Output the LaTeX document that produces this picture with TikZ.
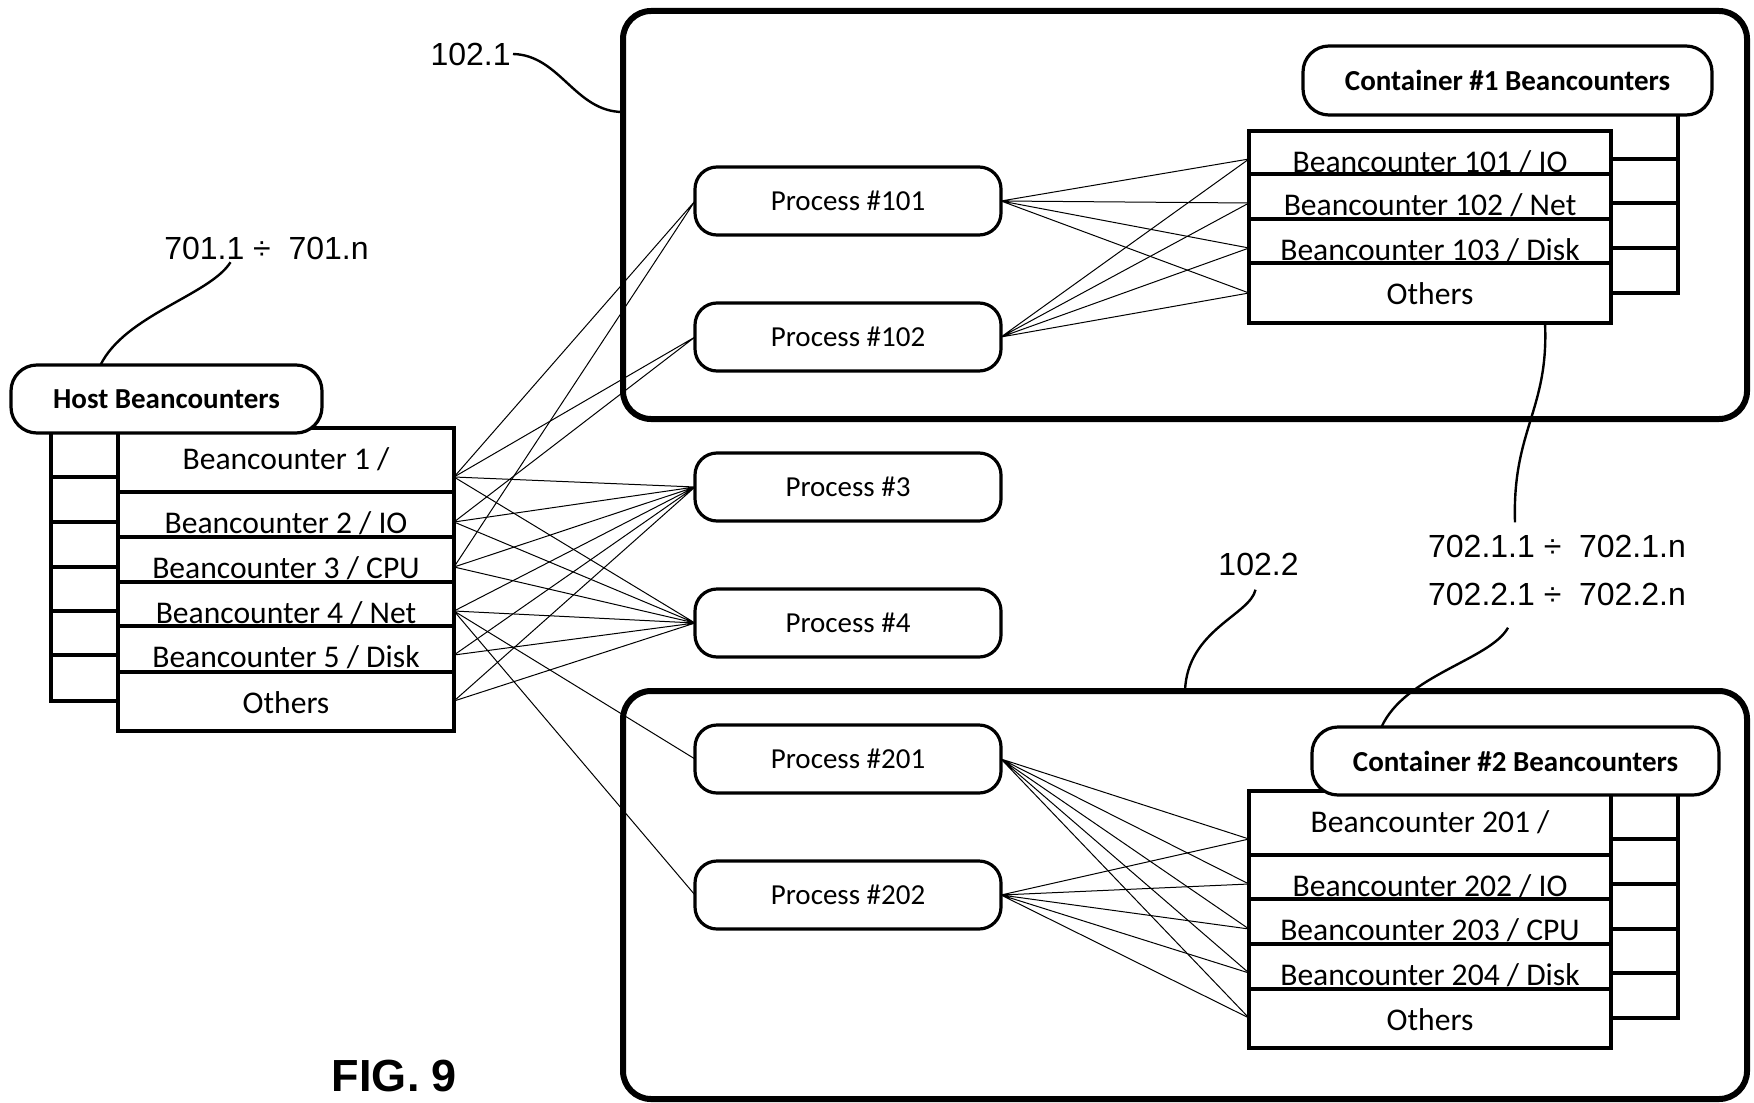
\documentclass[tikz,border=0pt]{standalone}
\usepackage{fontspec}
\setmainfont{Carlito}
\newfontfamily\arialfont{Liberation Sans}
\usetikzlibrary{positioning}

\begin{document}
\begin{tikzpicture}[x=0.5pt, y=-0.5pt,
        ctframe/.style={draw, line width=3pt, rounded corners=14pt, minimum width=562pt, minimum height=204pt, outer sep=0pt},
        proc/.style={draw, rounded corners=11pt, line width=1.6pt, minimum width=153pt, minimum height=34pt, outer sep=0pt, font=\fontsize{14.5}{17}\selectfont},
        bctitle/.style={draw, fill=white, rounded corners=13pt, line width=1.6pt, minimum height=34pt, outer sep=0pt, font=\fontsize{14.5}{17}\selectfont\bfseries},
        bcrow/.style={draw, fill=white, line width=1.6pt, inner ysep=0.5pt, outer sep=0pt, text height=20pt, text depth=#1, font=\fontsize{15.8}{18}\selectfont},
        hostrow/.style={bcrow=#1, minimum width=168pt},
        ctrow/.style={bcrow=#1, minimum width=181pt},
        stub/.style={line width=1.6pt},
        wire/.style={line width=0.5pt},
        refnum/.style={inner sep=1pt, font=\arialfont\fontsize{16}{24}\selectfont},
        leader/.style={line width=1.2pt}]
    \useasboundingbox (0,0) rectangle (1754,1102);
    \node[ctframe] (ct1) at (1185,215) {};
    \node[ctframe] (ct2) at (1185,895) {};

    \node[hostrow=11pt, anchor=north west] (h1) at (118,428) {Beancounter 1 /};
    \node[hostrow=1.5pt, below=0pt of h1] (h2) {Beancounter 2 / IO};
    \node[hostrow=1.5pt, below=0pt of h2] (h3) {Beancounter 3 / CPU};
    \node[hostrow=1pt, below=0pt of h3] (h4) {Beancounter 4 / Net};
    \node[hostrow=2pt, below=0pt of h4] (h5) {Beancounter 5 / Disk};
    \node[hostrow=8.5pt, below=0pt of h5] (h6) {Others};
    \node[bctitle, minimum width=155.5pt] (hostt) at (166.5,399) {Host Beancounters};
    \draw[stub] (51,433) -- (51,701) -- (118,701);
    \draw[stub] (51,477) -- (118,477) (51,522) -- (118,522) (51,567) -- (118,567) (51,611) -- (118,611) (51,655) -- (118,655);

    \node[ctrow=0.5pt, anchor=north west] (c1r1) at (1249,131) {Beancounter 101 / IO};
    \node[ctrow=1.5pt, below=0pt of c1r1] (c1r2) {Beancounter 102 / Net};
    \node[ctrow=1pt, below=0pt of c1r2] (c1r3) {Beancounter 103 / Disk};
    \node[ctrow=9pt, below=0pt of c1r3] (c1r4) {Others};
    \node[bctitle, minimum width=204.5pt, minimum height=34.5pt] (c1t) at (1507.5,80.5) {Container \#1 Beancounters};
    \draw[stub] (1678,115) -- (1678,293) -- (1611,293);
    \draw[stub] (1611,159) -- (1678,159) (1611,203) -- (1678,203) (1611,248) -- (1678,248);

    \node[ctrow=11pt, anchor=north west] (c2r1) at (1249,791) {Beancounter 201 /};
    \node[ctrow=1pt, below=0pt of c2r1] (c2r2) {Beancounter 202 / IO};
    \node[ctrow=1.5pt, below=0pt of c2r2] (c2r3) {Beancounter 203 / CPU};
    \node[ctrow=1.5pt, below=0pt of c2r3] (c2r4) {Beancounter 204 / Disk};
    \node[ctrow=8.5pt, below=0pt of c2r4] (c2r5) {Others};
    \node[bctitle, minimum width=203.5pt] (c2t) at (1515.5,761) {Container \#2 Beancounters};
    \draw[stub] (1678,795) -- (1678,1018) -- (1611,1018);
    \draw[stub] (1611,839) -- (1678,839) (1611,884) -- (1678,884) (1611,929) -- (1678,929) (1611,973) -- (1678,973);

    \node[proc] (p101) at (848,201) {Process \#101};
    \node[proc, below=34pt of p101] (p102) {Process \#102};
    \node[proc, below=41pt of p102] (p3) {Process \#3};
    \node[proc, below=34pt of p3] (p4) {Process \#4};
    \node[proc, below=34pt of p4] (p201) {Process \#201};
    \node[proc, below=34pt of p201] (p202) {Process \#202};

    \coordinate (ha1) at (454,477);
    \coordinate (ha2) at (454,522);
    \coordinate (ha3) at (454,567);
    \coordinate (ha4) at (454,611);
    \coordinate (ha5) at (454,655);
    \coordinate (ha6) at (454,701);
    \coordinate (ca1) at (1249,159);
    \coordinate (ca2) at (1249,203);
    \coordinate (ca3) at (1249,248);
    \coordinate (ca4) at (1249,293);
    \coordinate (cb1) at (1249,839);
    \coordinate (cb2) at (1249,884);
    \coordinate (cb3) at (1249,929);
    \coordinate (cb4) at (1249,973);
    \coordinate (cb5) at (1249,1018);

    \draw[wire] (ha1) -- (p3.west) (ha2) -- (p3.west) (ha3) -- (p3.west) (ha4) -- (p3.west) (ha5) -- (p3.west) (ha6) -- (p3.west);
    \draw[wire] (ha1) -- (p4.west) (ha2) -- (p4.west) (ha3) -- (p4.west) (ha4) -- (p4.west) (ha5) -- (p4.west) (ha6) -- (p4.west);
    \draw[wire] (ha1) -- (p101.west) (ha3) -- (p101.west);
    \draw[wire] (ha1) -- (p102.west) (ha2) -- (p102.west);
    \draw[wire] (ha4) -- (p201.west) (ha4) -- (p202.west);
    \draw[wire] (p101.east) -- (ca1) (p101.east) -- (ca2) (p101.east) -- (ca3) (p101.east) -- (ca4);
    \draw[wire] (p102.east) -- (ca1) (p102.east) -- (ca2) (p102.east) -- (ca3) (p102.east) -- (ca4);
    \draw[wire] (p201.east) -- (cb1) (p201.east) -- (cb2) (p201.east) -- (cb3) (p201.east) -- (cb4) (p201.east) -- (cb5);
    \draw[wire] (p202.east) -- (cb1) (p202.east) -- (cb2) (p202.east) -- (cb3) (p202.east) -- (cb4) (p202.east) -- (cb5);

    \node[refnum, anchor=east] (r1021) at (513,54) {102.1};
    \node[refnum] (r701) at (266.5,248.5) {701.1 ÷\ \ 701.n};
    \node[refnum, align=center] (r702) at (1557,570) {702.1.1 ÷\ \ 702.1.n\\702.2.1 ÷\ \ 702.2.n};
    \node[refnum] (r1022) at (1258.5,564) {102.2};
    \node[font=\arialfont\bfseries\fontsize{22.5}{27}\selectfont] (fig) at (394.5,1076) {FIG. 9};

    \draw[leader] (r1021.east) .. controls (560,55) and (575,112) .. ([yshift=51.5pt]ct1.west);
    \draw[leader] ([xshift=-18pt]r701.south) .. controls (210,295) and (125,315) .. ([xshift=-33pt]hostt.north);
    \draw[leader] ([xshift=57.5pt]c1r4.south) .. controls (1549,410) and (1512,430) .. ([xshift=-21pt, yshift=5pt]r702.north);
    \draw[leader] ([xshift=-24.5pt, yshift=-10pt]r702.south) .. controls (1490,660) and (1405,675) .. ([xshift=-67pt]c2t.north);
    \draw[leader] ([xshift=-1.5pt, yshift=-6pt]r1022.south) .. controls (1250,615) and (1187,630) .. (ct2.north);
\end{tikzpicture}
\end{document}
